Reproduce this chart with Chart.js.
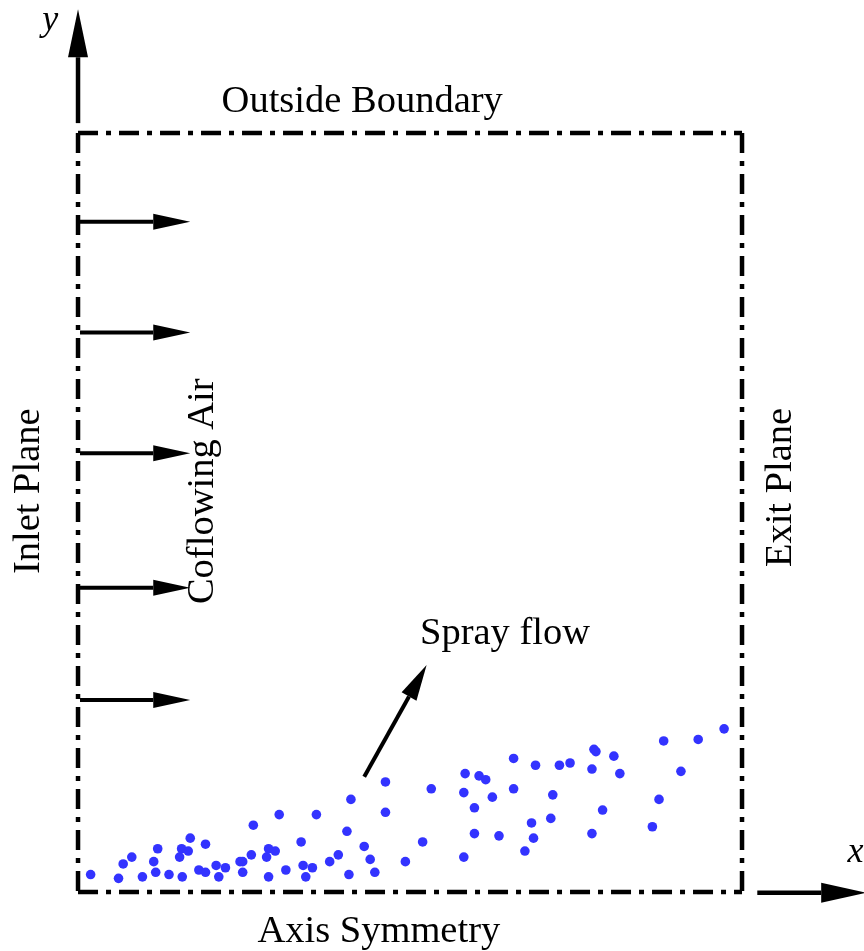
<!DOCTYPE html>
<html>
<head>
<meta charset="utf-8">
<script src="https://cdn.jsdelivr.net/npm/chart.js@4.4.1/dist/chart.umd.min.js"></script>
<style>
  html, body { margin: 0; padding: 0; background: #fff; }
  #wrap { width: 864px; height: 951px; position: relative; }
</style>
</head>
<body>
<div id="wrap"><canvas id="sprayChart"></canvas></div>
<script>
// Droplet positions, in domain units (the box runs 0..10 in x and y)
const dropX = [0.19, 0.61, 0.68, 0.81, 0.97, 1.14, 1.17, 1.20, 1.37, 1.53,
  1.56, 1.57, 1.66, 1.69, 1.82, 1.92, 1.92, 2.08, 2.12, 2.22,
  2.44, 2.48, 2.48, 2.61, 2.64, 2.84, 2.87, 2.87, 2.97, 3.03,
  3.13, 3.36, 3.39, 3.43, 3.53, 3.59, 3.79, 3.92, 4.05, 4.08,
  4.11, 4.31, 4.40, 4.47, 4.63, 4.63, 4.93, 5.19, 5.32, 5.83,
  5.81, 5.97, 5.97, 5.81, 6.04, 6.14, 6.24, 6.34, 6.56, 6.56,
  6.73, 6.83, 6.86, 6.89, 7.12, 7.15, 7.25, 7.41, 7.74, 7.74,
  7.77, 7.80, 7.90, 8.07, 8.16, 8.65, 8.75, 8.82, 9.08, 9.34, 9.73];
const dropY = [0.23, 0.18, 0.37, 0.46, 0.20, 0.40, 0.26, 0.57, 0.23, 0.46,
  0.57, 0.20, 0.54, 0.71, 0.29, 0.63, 0.26, 0.35, 0.20, 0.32,
  0.40, 0.40, 0.26, 0.49, 0.88, 0.46, 0.57, 0.20, 0.54, 1.02,
  0.29, 0.66, 0.35, 0.20, 0.32, 1.02, 0.40, 0.49, 0.80, 0.23,
  1.22, 0.60, 0.43, 0.26, 1.45, 1.05, 0.40, 0.66, 1.36, 1.56,
  1.31, 1.11, 0.77, 0.46, 1.53, 1.48, 1.25, 0.74, 1.76, 1.36,
  0.54, 0.91, 0.71, 1.67, 0.97, 1.28, 1.67, 1.70, 1.62, 0.77,
  1.88, 1.85, 1.08, 1.79, 1.56, 0.86, 1.22, 1.99, 1.59, 2.01, 2.15];

// Coflowing air arrows (heights) and the domain box
const coflowY = [8.83, 7.37, 5.78, 4.01, 2.53];
const boxX = [0, 10];
const boxY = [0, 10];
const xRange = [-1.175, 11.837];
const yRange = [-0.777, 11.752];

const FONT = '"Liberation Serif", "Times New Roman", serif';

function arrow(ctx, x1, y1, x2, y2, head, half, width) {
  const ang = Math.atan2(y2 - y1, x2 - x1);
  const bx = x2 - head * Math.cos(ang);
  const by = y2 - head * Math.sin(ang);
  ctx.save();
  ctx.setLineDash([]);
  ctx.lineWidth = width;
  ctx.strokeStyle = '#000';
  ctx.fillStyle = '#000';
  ctx.beginPath();
  ctx.moveTo(x1, y1);
  ctx.lineTo(bx, by);
  ctx.stroke();
  ctx.beginPath();
  ctx.moveTo(x2, y2);
  ctx.lineTo(bx + half * Math.sin(ang), by - half * Math.cos(ang));
  ctx.lineTo(bx - half * Math.sin(ang), by + half * Math.cos(ang));
  ctx.closePath();
  ctx.fill();
  ctx.restore();
}

function label(ctx, text, x, y, opts) {
  opts = opts || {};
  ctx.save();
  ctx.fillStyle = '#000';
  ctx.font = (opts.italic ? 'italic ' : '') + (opts.size || 38) + 'px ' + FONT;
  ctx.textAlign = opts.align || 'center';
  ctx.textBaseline = 'alphabetic';
  ctx.translate(x, y);
  if (opts.rotate) ctx.rotate(-Math.PI / 2);
  ctx.fillText(text, 0, 0);
  ctx.restore();
}

const schematic = {
  id: 'schematic',
  beforeDatasetsDraw(chart) {
    const ctx = chart.ctx;
    const sx = chart.scales.x, sy = chart.scales.y;
    const X = v => sx.getPixelForValue(v);
    const Y = v => sy.getPixelForValue(v);

    // dash-dot domain box
    ctx.save();
    ctx.strokeStyle = '#000';
    ctx.lineWidth = 4.5;
    ctx.setLineDash([20, 8, 5, 8]);
    ctx.beginPath();
    ctx.moveTo(X(boxX[0]), Y(boxY[1]));
    ctx.lineTo(X(boxX[1]), Y(boxY[1]));
    ctx.moveTo(X(boxX[1]), Y(boxY[1]));
    ctx.lineTo(X(boxX[1]), Y(boxY[0]));
    ctx.moveTo(X(boxX[0]), Y(boxY[0]));
    ctx.lineTo(X(boxX[1]), Y(boxY[0]));
    ctx.moveTo(X(boxX[0]), Y(boxY[1]));
    ctx.lineTo(X(boxX[0]), Y(boxY[0]));
    ctx.stroke();
    ctx.restore();

    // coordinate axes
    arrow(ctx, X(0), Y(10.13), X(0), Y(11.63), 48, 10, 4.5);
    arrow(ctx, X(10.23), Y(-0.01), X(11.87), Y(-0.01), 45, 10, 4.5);

    // coflowing air
    coflowY.forEach(v => arrow(ctx, X(0.03), Y(v), X(1.69), Y(v), 37, 8, 4));

    // spray direction
    arrow(ctx, X(4.31), Y(1.52), X(5.25), Y(2.99), 36, 8.5, 4);
  },
  afterDraw(chart) {
    const ctx = chart.ctx;
    const sx = chart.scales.x, sy = chart.scales.y;
    const X = v => sx.getPixelForValue(v);
    const Y = v => sy.getPixelForValue(v);
    label(ctx, 'Outside Boundary', X(4.28), Y(10.28), { size: 38.5 });
    label(ctx, 'Axis Symmetry', X(4.53), Y(-0.66), { size: 38.5 });
    label(ctx, 'Spray flow', X(6.43), Y(3.27), { size: 38.5 });
    label(ctx, 'Inlet Plane', X(-0.59), Y(5.28), { rotate: true, size: 38.5 });
    label(ctx, 'Coflowing Air', X(2.03), Y(5.28), { rotate: true, size: 38.5 });
    label(ctx, 'Exit Plane', X(10.74), Y(5.33), { rotate: true, size: 38.5 });
    label(ctx, 'y', X(-0.42), Y(11.36), { italic: true, size: 36 });
    label(ctx, 'x', X(11.59), Y(0.39), { italic: true, size: 36, align: 'left' });
  }
};

new Chart(document.getElementById('sprayChart'), {
  type: 'scatter',
  data: {
    datasets: [{
      label: 'Spray droplets',
      data: dropX.map((x, i) => ({ x: x, y: dropY[i] })),
      backgroundColor: '#3333ff',
      borderWidth: 0,
      pointRadius: 4.8,
      pointHoverRadius: 4.8,
      clip: false
    }]
  },
  options: {
    responsive: true,
    maintainAspectRatio: false,
    animation: false,
    layout: { padding: 0, autoPadding: false },
    plugins: {
      legend: { display: false },
      tooltip: { enabled: false }
    },
    scales: {
      x: { type: 'linear', display: false, min: xRange[0], max: xRange[1] },
      y: { type: 'linear', display: false, min: yRange[0], max: yRange[1] }
    }
  },
  plugins: [schematic]
});
</script>
</body>
</html>
